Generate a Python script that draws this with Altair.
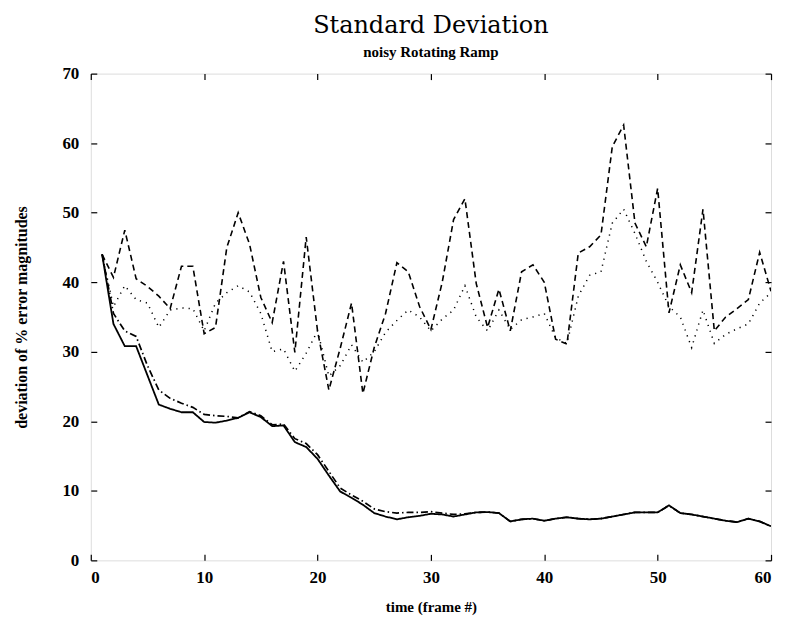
import altair as alt
import pandas as pd

frames = list(range(1, 61))

solid = [44.0, 34.0, 30.8, 30.8, 26.6, 22.4, 21.8, 21.3, 21.3, 19.9,
         19.8, 20.1, 20.5, 21.3, 20.6, 19.3, 19.4, 17.0, 16.3, 14.6,
         12.2, 9.9, 9.0, 8.0, 6.8, 6.3, 5.9, 6.2, 6.4, 6.7,
         6.6, 6.3, 6.6, 6.9, 6.95, 6.8, 5.6, 5.9, 6.0, 5.7,
         6.0, 6.2, 6.0, 5.9, 6.0, 6.3, 6.6, 6.9, 6.9, 6.9,
         7.9, 6.8, 6.6, 6.3, 6.0, 5.7, 5.5, 6.0, 5.6, 4.9]

dashdot = [44.0, 35.5, 33.0, 32.2, 28.0, 24.5, 23.3, 22.6, 22.0, 21.0,
           20.8, 20.7, 20.5, 21.4, 20.8, 19.5, 19.6, 17.5, 16.8, 15.2,
           12.8, 10.4, 9.4, 8.5, 7.4, 7.0, 6.8, 6.9, 6.9, 7.0,
           6.8, 6.6, 6.7, 6.9, 6.95, 6.8, 5.6, 5.9, 6.0, 5.7,
           6.0, 6.2, 6.0, 5.9, 6.0, 6.3, 6.6, 6.9, 6.9, 6.9,
           7.9, 6.8, 6.6, 6.3, 6.0, 5.7, 5.5, 6.0, 5.6, 4.9]

dashed = [44.0, 40.7, 47.5, 40.5, 39.4, 38.0, 36.2, 42.3, 42.3, 32.6,
          33.5, 45.0, 50.0, 45.5, 37.8, 34.2, 43.0, 29.9, 46.5, 33.0,
          24.5, 30.5, 37.0, 24.0, 30.6, 35.5, 42.8, 41.5, 36.5, 33.2,
          40.0, 49.0, 52.0, 39.8, 33.5, 39.0, 33.0, 41.5, 42.5, 40.0,
          31.8, 31.1, 44.2, 45.1, 46.8, 59.5, 62.6, 48.5, 45.1, 53.5,
          35.6, 42.5, 38.5, 50.5, 33.0, 35.0, 36.2, 37.5, 44.3, 38.7]

dotted = [44.0, 36.5, 39.5, 37.5, 37.0, 33.5, 36.0, 36.3, 36.2, 33.0,
          37.0, 38.5, 39.5, 38.6, 35.5, 30.0, 30.4, 27.2, 29.8, 33.0,
          26.5, 28.0, 31.0, 28.5, 30.0, 32.8, 34.5, 36.0, 35.0, 33.0,
          34.7, 36.0, 39.5, 35.0, 33.0, 36.0, 33.2, 34.6, 35.0, 35.5,
          32.0, 31.2, 38.0, 41.0, 41.5, 48.5, 50.5, 47.0, 43.0, 40.0,
          36.5, 35.0, 30.6, 36.0, 31.2, 32.5, 33.3, 34.0, 37.0, 38.5]

series_names = ["solid", "dashdot", "dashed", "dotted"]
x_ticks = [0, 10, 20, 30, 40, 50, 60]
y_ticks = [0, 10, 20, 30, 40, 50, 60, 70]

rows = []
for name, vals in zip(series_names, [solid, dashdot, dashed, dotted]):
    for f, v in zip(frames, vals):
        rows.append({"frame": f, "value": v, "series": name})
df = pd.DataFrame(rows)

serif = "Liberation Serif"
title_serif = "DejaVu Serif"
xscale = alt.Scale(domain=[0, 60], nice=False, zero=False)
yscale = alt.Scale(domain=[0, 70], nice=False)

lines = alt.Chart(df).mark_line(color="black", clip=True).encode(
    x=alt.X("frame:Q", scale=xscale,
            axis=alt.Axis(values=x_ticks, ticks=False, domain=False, grid=False,
                          labelFont=serif, labelFontWeight="bold", labelFontSize=17,
                          labelColor="black", labelPadding=9,
                          title="time (frame #)", titleFont=serif, titleFontSize=15,
                          titleFontWeight="bold", titleColor="black", titlePadding=14)),
    y=alt.Y("value:Q", scale=yscale,
            axis=alt.Axis(values=y_ticks, ticks=False, domain=False, grid=False,
                          labelFont=serif, labelFontWeight="bold", labelFontSize=17,
                          labelColor="black", labelPadding=12,
                          title="deviation of % error magnitudes", titleFont=serif,
                          titleFontSize=16, titleFontWeight="bold", titleColor="black",
                          titlePadding=32)),
    strokeDash=alt.StrokeDash("series:N",
                              scale=alt.Scale(domain=series_names,
                                              range=[[1, 0], [7, 3, 1.5, 3], [6, 4], [1.2, 5]]),
                              legend=None),
    strokeWidth=alt.StrokeWidth("series:N",
                                scale=alt.Scale(domain=series_names, range=[1.8, 1.5, 1.6, 1.0]),
                                legend=None),
)

def tick_layer(xorient, yorient):
    return alt.Chart(df).mark_point(opacity=0).encode(
        x=alt.X("frame:Q", scale=xscale,
                axis=alt.Axis(values=x_ticks, orient=xorient, offset=-6, tickSize=6,
                              tickColor="black", tickWidth=1.2, labels=False,
                              domain=False, grid=False, title=None)),
        y=alt.Y("value:Q", scale=yscale,
                axis=alt.Axis(values=y_ticks, orient=yorient, offset=-6, tickSize=6,
                              tickColor="black", tickWidth=1.2, labels=False,
                              domain=False, grid=False, title=None)),
    )

chart = alt.layer(lines, tick_layer("bottom", "left"), tick_layer("top", "right")).resolve_axis(
    x="independent", y="independent"
).properties(
    width=682, height=488,
    padding={"left": 83, "top": 65, "right": 8, "bottom": 57},
    autosize=alt.AutoSizeParams(type="none"),
    title=alt.Title("Standard Deviation", subtitle="noisy Rotating Ramp",
                    font=title_serif, fontSize=24, fontWeight="normal", color="black",
                    subtitleFont=serif, subtitleFontSize=15, subtitleFontWeight="bold",
                    subtitleColor="black", anchor="middle", offset=5, subtitlePadding=7),
).configure_view(stroke="black", strokeWidth=1.5).configure(background="white")

chart.save("out.html", embed_options={"renderer": "svg", "actions": False})
